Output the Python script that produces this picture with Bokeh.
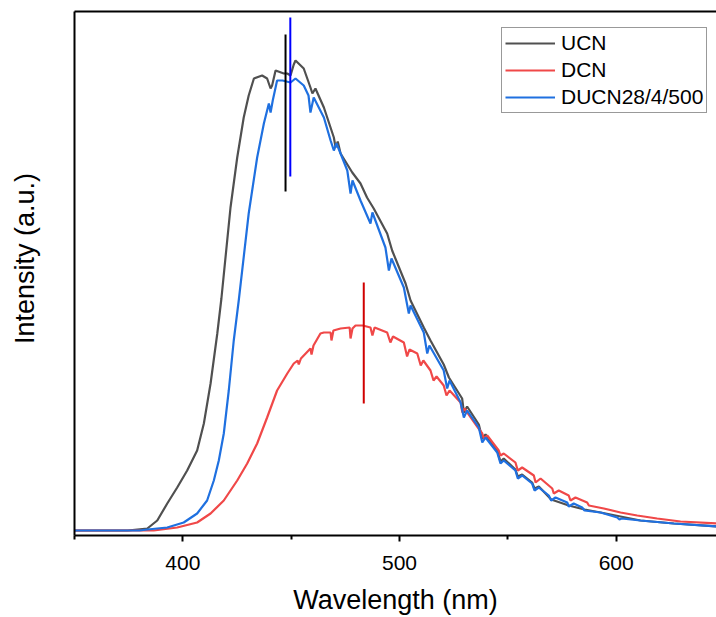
from bokeh.plotting import figure
from bokeh.models import LinearAxis, FixedTicker, Legend, LegendItem, Range1d
from bokeh.embed import file_html
from bokeh.resources import INLINE

# ---------------- data ----------------
ucn_wl = [350, 374.5, 383.6, 388.2, 392.8, 397.4, 402.0, 406.6, 409.7, 412.8, 415.9, 417.8,
          422.0, 425.1, 428.1, 430.4, 432.8, 436.6, 438.9, 440.5, 441.2, 442.8, 446.6, 448.2,
          449.7, 451.2, 452.0, 455.8, 458.9, 459.8, 461.2, 465.1, 469.7, 470.5, 471.5, 472.8,
          478.2, 482.0, 485.0, 488.1, 494.3, 496.6, 502.8, 505.1, 511.2, 514.3, 520.4, 522.8,
          528.9, 529.7, 531.2, 536.6, 538.2, 539.7, 545.1, 546.6, 548.1, 553.5, 554.6, 556.6,
          561.2, 562.3, 564.3, 570.0, 578.1, 585.4, 592.8, 611.2, 626.6, 646.3, 650]
ucn_int = [0, 0, 2, 10, 27, 43, 60, 80, 107, 147, 197, 232,
           323, 373, 413, 435, 452, 455, 452, 442, 445, 460, 457, 457,
           455, 466, 470, 462, 443, 437, 442, 423, 393, 383, 389, 377,
           358, 347, 333, 322, 297, 280, 247, 230, 203, 190, 166, 153,
           132, 118, 124, 106, 92, 96, 80, 69, 72, 61, 54, 56,
           48, 42, 44, 31, 25, 21, 18, 10, 7, 4, 4]

dcn_wl = [350, 386.6, 397.4, 406.6, 412.8, 418.9, 425.1, 429.7, 434.3, 438.9, 443.5, 448.2,
          451.2, 453.0, 453.5, 454.5, 458.9, 459.4, 460.3, 463.5, 465.1, 468.2, 468.6, 469.5,
          472.8, 477.0, 477.4, 478.3, 479.7, 483.0, 486.6, 487.5, 488.5, 494.3, 495.8, 497.0,
          502.0, 503.5, 504.6, 508.2, 509.8, 511.0, 514.3, 515.7, 517.1, 520.4, 521.7, 523.1,
          528.2, 529.0, 530.0, 536.5, 538.2, 538.9, 540.5, 545.8, 546.6, 548.1, 553.5, 554.6,
          556.6, 562.0, 562.8, 565.1, 570.5, 571.2, 573.5, 578.1, 578.9, 581.2, 586.6, 587.4,
          594.3, 602.0, 609.7, 618.9, 629.7, 646.3, 650]
dcn_int = [0, 0, 3, 8, 17, 30, 50, 67, 87, 113, 140, 157,
           167, 170, 166, 172, 182, 176, 185, 197, 198, 198, 190, 200,
           202, 203, 192, 202, 205, 205, 203, 195, 203, 198, 188, 194,
           188, 174, 181, 177, 165, 170, 160, 150, 154, 145, 135, 140,
           128, 118, 122, 102, 97, 92, 95, 80, 75, 77, 68, 60,
           63, 55, 48, 52, 42, 37, 40, 35, 30, 33, 28, 25,
           22, 18, 15, 12, 9, 7, 7]

ducn_wl = [350, 380.0, 383.6, 392.8, 400.4, 406.6, 411.2, 414.3, 416.6, 418.9, 421.2, 423.5,
           425.8, 430.4, 434.3, 437.4, 439.7, 440.5, 441.5, 443.5, 446.0, 449.7, 452.0, 455.8,
           458.0, 458.9, 460.4, 465.1, 468.2, 469.7, 470.9, 472.8, 475.9, 477.4, 478.3, 482.0,
           486.6, 487.5, 493.5, 495.1, 496.3, 502.0, 504.3, 505.1, 511.2, 512.8, 513.8, 520.4,
           522.0, 523.1, 528.2, 529.7, 531.2, 536.6, 538.2, 539.7, 545.1, 546.6, 548.1, 553.5,
           554.6, 556.6, 561.2, 562.3, 564.3, 568.9, 570.0, 572.0, 577.4, 578.1, 580.4, 584.3,
           585.4, 592.8, 600.5, 601.5, 602.5, 611.2, 626.6, 646.3, 650]
ducn_int = [0, 0, 1, 3, 8, 17, 30, 50, 70, 97, 140, 190,
            230, 317, 373, 407, 427, 418, 430, 450, 450, 448, 452, 445,
            435, 418, 433, 413, 390, 380, 387, 377, 360, 337, 350, 330,
            307, 318, 283, 260, 272, 243, 217, 225, 198, 177, 185, 160,
            142, 150, 128, 113, 120, 103, 88, 93, 78, 67, 70, 60,
            52, 55, 47, 40, 43, 35, 30, 33, 28, 24, 27, 23,
            20, 18, 13, 11, 12, 10, 7, 4, 4]

# peak marker lines
peak_wl = [447.4, 449.6, 483.5]
peak_top = [496, 513, 248]
peak_bottom = [339, 354, 127]
peak_colors = ["#000000", "#0000FF", "#D00000"]

x_ticks = [400, 500, 600]
x_minor = [350, 450, 550, 650]

x_title = "Wavelength (nm)"
y_title = "Intensity (a.u.)"

FONT = "Liberation Sans"


def bare_axis(axis):
    axis.major_tick_out = 0
    axis.major_tick_in = 0
    axis.minor_tick_out = 0
    axis.minor_tick_in = 0
    axis.major_label_standoff = 0
    axis.major_label_text_font_size = "0px"
    axis.axis_label_standoff = 0
    return axis


p = figure(width=716, height=617, output_backend="svg", toolbar_location=None,
           x_range=Range1d(350, 646.3), y_range=Range1d(-5, 519),
           min_border_left=74, min_border_right=0, min_border_top=11, min_border_bottom=82,
           x_axis_location=None, y_axis_location=None)
p.outline_line_color = None
p.grid.grid_line_color = None
p.background_fill_color = "white"
p.border_fill_color = "white"

r_ucn = p.line(ucn_wl, ucn_int, line_color="#505050", line_width=2.2)
r_dcn = p.line(dcn_wl, dcn_int, line_color="#F04848", line_width=2.2)
r_ducn = p.line(ducn_wl, ducn_int, line_color="#1F70E0", line_width=2.2)

p.segment(x0=peak_wl, y0=peak_bottom, x1=peak_wl, y1=peak_top, line_color=peak_colors, line_width=2)

# bottom axis
xa = LinearAxis(ticker=FixedTicker(ticks=x_ticks, minor_ticks=x_minor), axis_label=x_title)
xa.axis_line_width = 2
xa.axis_line_color = "black"
xa.major_tick_line_width = 2
xa.major_tick_out = 6
xa.major_tick_in = 0
xa.minor_tick_line_width = 2
xa.minor_tick_out = 4
xa.minor_tick_in = 0
xa.major_label_text_font = FONT
xa.major_label_text_font_size = "21px"
xa.major_label_text_color = "black"
xa.major_label_standoff = 14
xa.major_label_text_line_height = 1.0
xa.axis_label_text_font = FONT
xa.axis_label_text_font_size = "27px"
xa.axis_label_text_font_style = "normal"
xa.axis_label_text_color = "black"
xa.axis_label_text_line_height = 1.0
xa.axis_label_standoff = 12
p.add_layout(xa, "below")

# left axis (line only)
ya = bare_axis(LinearAxis(ticker=FixedTicker(ticks=[])))
ya.axis_line_width = 2
ya.axis_line_color = "black"
p.add_layout(ya, "left")

# left axis title; leading no-break spaces lift the visible text like the reference
yt = bare_axis(LinearAxis(ticker=FixedTicker(ticks=[]), axis_label="\u00a0" * 4 + y_title))
yt.axis_line_color = None
yt.axis_label_text_font = FONT
yt.axis_label_text_font_size = "27px"
yt.axis_label_text_font_style = "normal"
yt.axis_label_text_color = "black"
yt.axis_label_standoff = 35
p.add_layout(yt, "left")

# top border line
ta = bare_axis(LinearAxis(ticker=FixedTicker(ticks=[])))
ta.axis_line_width = 2
ta.axis_line_color = "black"
p.add_layout(ta, "above")

legend = Legend(items=[LegendItem(label="UCN", renderers=[r_ucn]),
                       LegendItem(label="DCN", renderers=[r_dcn]),
                       LegendItem(label="DUCN28/4/500", renderers=[r_ducn])],
                location=(427, 422))
legend.border_line_color = "#333333"
legend.border_line_width = 1.5
legend.background_fill_color = "white"
legend.background_fill_alpha = 1
legend.padding = 3
legend.spacing = 3
legend.margin = 0
legend.label_height = 24
legend.glyph_height = 24
legend.glyph_width = 50
legend.label_standoff = 6
legend.label_text_font = FONT
legend.label_text_font_size = "21px"
legend.label_text_color = "black"
p.add_layout(legend)

open("out.html", "w").write(file_html(p, INLINE))
